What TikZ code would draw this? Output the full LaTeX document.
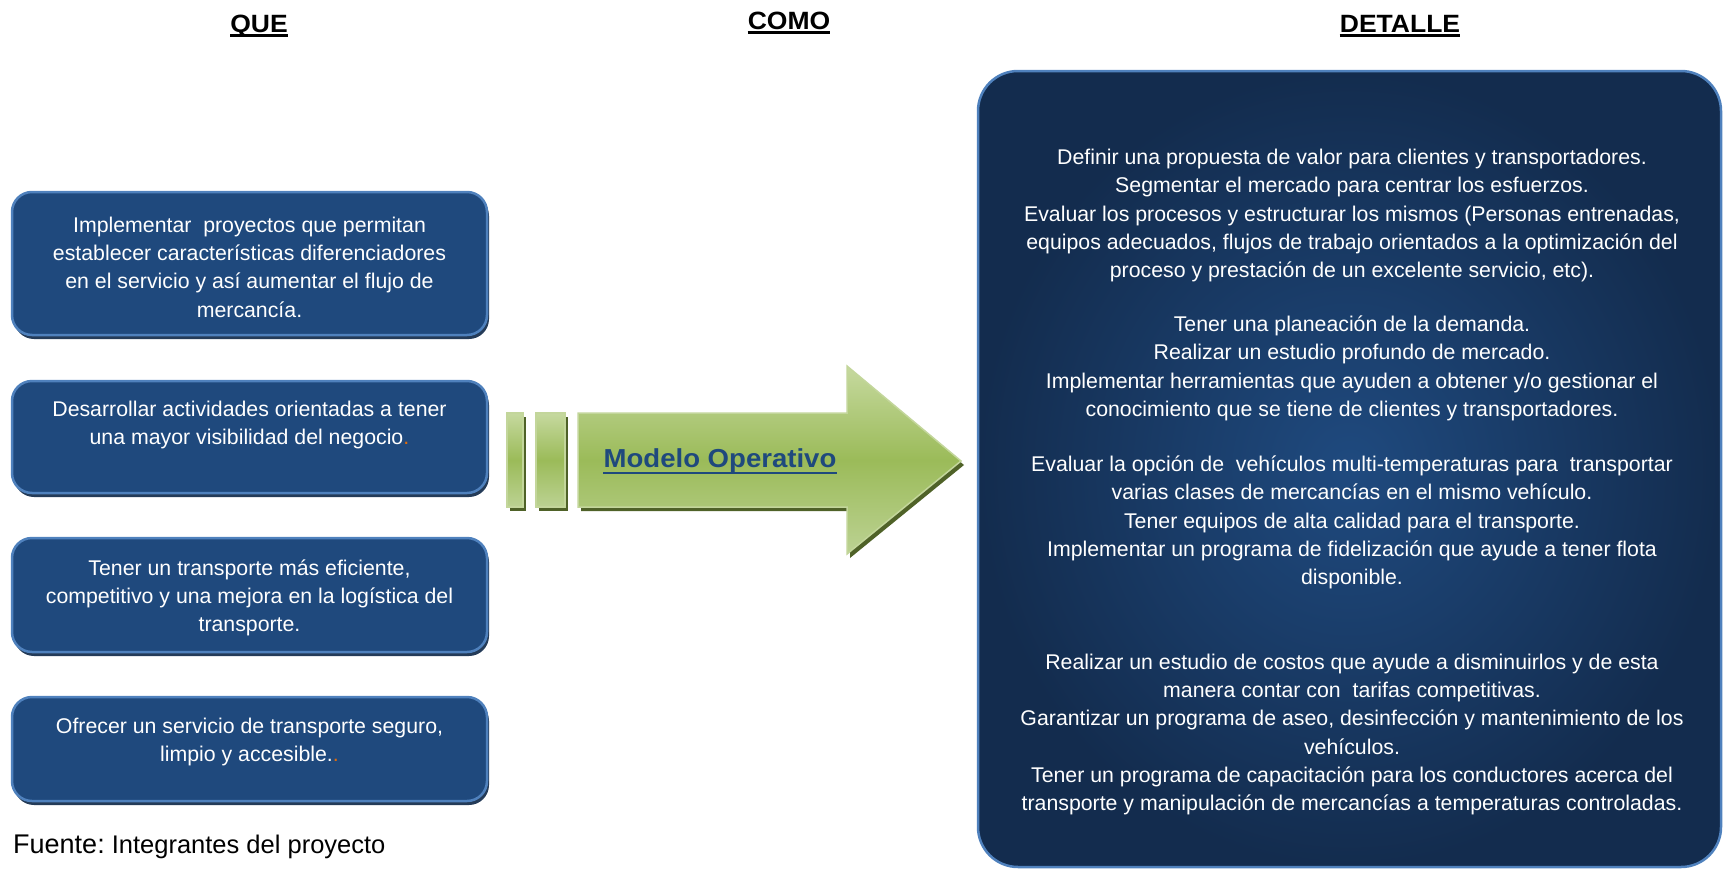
\documentclass[tikz,border=0pt]{standalone}
\usepackage{fontspec}
\setmainfont{Liberation Sans}
\newfontfamily\hdrfont[FakeStretch=1.06]{Liberation Sans}
\newfontfamily\mofont[FakeStretch=1.06]{Liberation Sans}
\usetikzlibrary{shadows}
\definecolor{boxblue}{HTML}{1F497D}
\definecolor{boxborder}{HTML}{4F81BD}
\definecolor{boxshadow}{HTML}{243B58}
\definecolor{detinner}{HTML}{1F4A7F}
\definecolor{detouter}{HTML}{132C4E}
\definecolor{arrowlight}{HTML}{C6D99F}
\definecolor{arrowmid}{HTML}{9BBB59}
\definecolor{arrowlow}{HTML}{BCD293}
\definecolor{arrowedge}{HTML}{C3D69B}
\definecolor{arrowshadow}{HTML}{4F6228}
\definecolor{modeloblue}{HTML}{1F497D}
\definecolor{orangedot}{HTML}{E36C09}
\begin{document}
\begin{tikzpicture}[x=1pt,y=-1pt,
  qbox/.style={rectangle, rounded corners=20pt, fill=boxblue, draw=boxborder,
    line width=2.5pt, inner sep=0pt,
    drop shadow={shadow xshift=2pt, shadow yshift=-4pt, fill=boxshadow, opacity=1}},
  detbox/.style={rectangle, rounded corners=40pt, inner color=detinner, outer color=detouter,
    draw=boxborder, line width=2.5pt, inner sep=0pt},
  bodytext/.style={text=white, align=center, inner sep=0pt,
    font=\fontsize{21.3}{28.3}\selectfont},
  hdr/.style={inner sep=0pt, font=\hdrfont\bfseries\fontsize{25}{30}\selectfont},
  hdrline/.style={line width=3pt},
  arrowpart/.style={top color=arrowlight, bottom color=arrowlow, middle color=arrowmid,
    draw=arrowedge, line width=1.5pt,
    drop shadow={shadow xshift=3pt, shadow yshift=-4pt, fill=arrowshadow, opacity=1}}
]
\useasboundingbox (0,0) rectangle (1724,870);

% headers
\node[hdr, anchor=base] (que) at (259,32) {QUE};
\node[hdr, anchor=base] (como) at (789,29) {COMO};
\node[hdr, anchor=base] (detalle) at (1400,32) {DETALLE};
\draw[hdrline] ([yshift=-3.5pt]que.base west) -- ([yshift=-3.5pt]que.base east);
\draw[hdrline] ([yshift=-3.5pt]como.base west) -- ([yshift=-3.5pt]como.base east);
\draw[hdrline] ([yshift=-3.5pt]detalle.base west) -- ([yshift=-3.5pt]detalle.base east);

% left boxes
\node[qbox, minimum width=475pt, minimum height=143pt] (q1) at (249.5,263.5) {};
\node[qbox, minimum width=475pt, minimum height=112pt] (q2) at (249.5,437) {};
\node[qbox, minimum width=475pt, minimum height=114pt] (q3) at (249.5,595) {};
\node[qbox, minimum width=475pt, minimum height=104pt] (q4) at (249.5,749) {};

\node[bodytext] (t1) at (249.5,267) {Implementar\ \ proyectos que permitan\\establecer características diferenciadores\\en el servicio y así aumentar el flujo de\\mercancía.};
\node[bodytext] (t2) at (249.5,425) {Desarrollar actividades orientadas a tener\\una mayor visibilidad del negocio\textcolor{orangedot}{.}};
\node[bodytext] (t3) at (249.5,598) {Tener un transporte más eficiente,\\competitivo y una mejora en la logística del\\transporte.};
\node[bodytext] (t4) at (249.5,742) {Ofrecer un servicio de transporte seguro,\\limpio y accesible.\textcolor{orangedot}{.}};

% footer
\node[anchor=base west, inner sep=0pt] (fuente) at (13,853)
  {{\fontsize{27}{30}\selectfont Fuente:}{\fontsize{25.5}{30}\selectfont\ Integrantes del proyecto}};

% arrow
\path[arrowpart] (507,413) rectangle (523,507);
\path[arrowpart] (536,413) rectangle (565,507);
\path[arrowpart] (578,413) -- (847,413) -- (847,366) -- (961,461) -- (847,554)
  -- (847,507) -- (578,507) -- cycle;
\node[anchor=base, inner sep=0pt, text=modeloblue,
  font=\mofont\bfseries\fontsize{26}{30}\selectfont] (modelo) at (720,467) {Modelo Operativo};
\draw[modeloblue, line width=2.8pt] ([yshift=-6pt]modelo.base west) -- ([yshift=-6pt]modelo.base east);

% right box
\node[detbox, minimum width=743pt, minimum height=796pt] (det) at (1349.5,469) {};
\node[bodytext] (d1) at (1352,215.5) {Definir una propuesta de valor para clientes y transportadores.\\
Segmentar el mercado para centrar los esfuerzos.\\
Evaluar los procesos y estructurar los mismos (Personas entrenadas,\\
equipos adecuados, flujos de trabajo orientados a la optimización del\\
proceso y prestación de un excelente servicio, etc).};
\node[bodytext] (d2) at (1352,368.5) {Tener una planeación de la demanda.\\
Realizar un estudio profundo de mercado.\\
Implementar herramientas que ayuden a obtener y/o gestionar el\\
conocimiento que se tiene de clientes y transportadores.};
\node[bodytext] (d3) at (1352,522.5) {Evaluar la opción de\ \ vehículos multi-temperaturas para\ \ transportar\\
varias clases de mercancías en el mismo vehículo.\\
Tener equipos de alta calidad para el transporte.\\
Implementar un programa de fidelización que ayude a tener flota\\
disponible.};
\node[bodytext] (d4) at (1352,734.5) {Realizar un estudio de costos que ayude a disminuirlos y de esta\\
manera contar con\ \ tarifas competitivas.\\
Garantizar un programa de aseo, desinfección y mantenimiento de los\\
vehículos.\\
Tener un programa de capacitación para los conductores acerca del\\
transporte y manipulación de mercancías a temperaturas controladas.};
\end{tikzpicture}
\end{document}
